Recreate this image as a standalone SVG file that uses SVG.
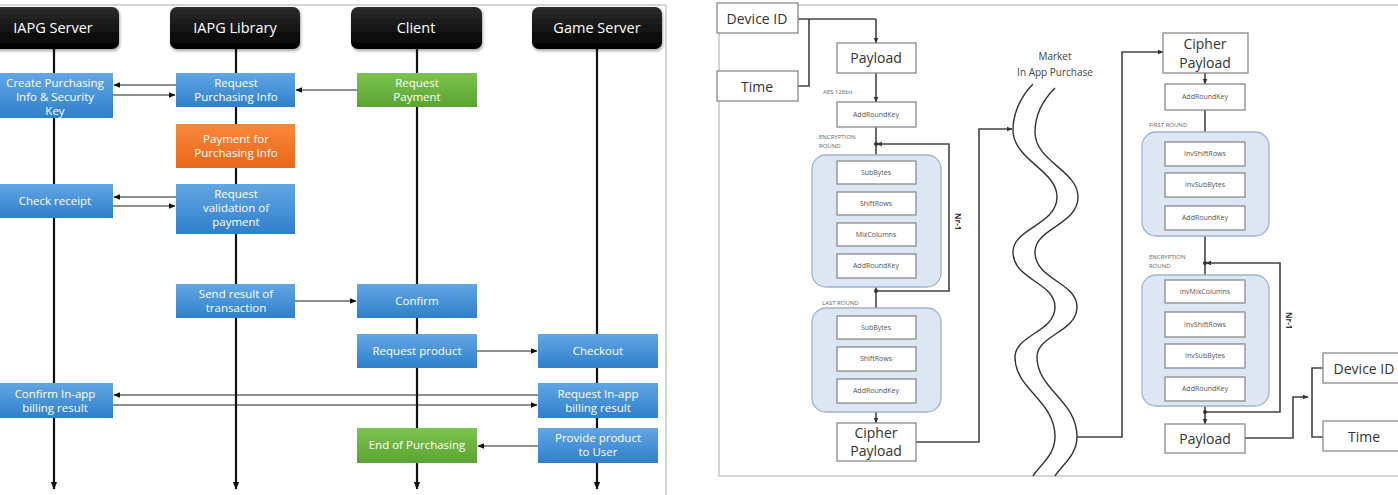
<svg xmlns="http://www.w3.org/2000/svg" width="1398" height="495" viewBox="0 0 1398 495">
<defs>
<linearGradient id="gBlue" x1="0" y1="0" x2="0" y2="1"><stop offset="0" stop-color="#62a6e4"/><stop offset="1" stop-color="#2f7fcb"/></linearGradient>
<linearGradient id="gOrange" x1="0" y1="0" x2="0" y2="1"><stop offset="0" stop-color="#f9893a"/><stop offset="1" stop-color="#e9661b"/></linearGradient>
<linearGradient id="gGreen" x1="0" y1="0" x2="0" y2="1"><stop offset="0" stop-color="#7cc44e"/><stop offset="1" stop-color="#5ba434"/></linearGradient>
<linearGradient id="gBlack" x1="0" y1="0" x2="0" y2="1"><stop offset="0" stop-color="#2c2c2c"/><stop offset="1" stop-color="#000"/></linearGradient>
<filter id="sh" x="-10%" y="-10%" width="130%" height="140%"><feDropShadow dx="1" dy="2" stdDeviation="1.5" flood-color="#000" flood-opacity="0.35"/></filter>
<marker id="ah" viewBox="0 0 10 10" refX="9" refY="5" markerWidth="6" markerHeight="6" orient="auto"><path d="M0,1 L10,5 L0,9 z" fill="#111"/></marker>
<marker id="al" viewBox="0 0 10 10" refX="9" refY="5" markerWidth="3.6" markerHeight="3.6" orient="auto"><path d="M0,1 L10,5 L0,9 z" fill="#111"/></marker>
<marker id="as" viewBox="0 0 10 10" refX="9" refY="5" markerWidth="3.6" markerHeight="3.6" orient="auto"><path d="M0,1 L10,5 L0,9 z" fill="#333"/></marker>
<style>
.hdr{fill:url(#gBlack);filter:url(#sh);}
.ht{font-family:"Open Sans","Noto Sans",sans-serif;font-size:14.5px;fill:#fff;text-anchor:middle;}
.bt{font-family:"Open Sans","Noto Sans",sans-serif;font-size:11.5px;fill:#fff;text-anchor:middle;}
.blue{fill:url(#gBlue);}
.orange{fill:url(#gOrange);}
.green{fill:url(#gGreen);}
.life{stroke:#111;stroke-width:2.2;fill:none;marker-end:url(#al);}
.msg{stroke:#222;stroke-width:1.2;fill:none;marker-end:url(#ah);}
.frame{stroke:#c8c8c8;stroke-width:1.5;fill:none;}
.wb{fill:#fff;stroke:#8a8a8a;stroke-width:1.3;}
.cont{fill:#dde7f3;stroke:#9fb4cb;stroke-width:1.3;}
.lt{font-family:"Open Sans","Noto Sans",sans-serif;font-size:14px;fill:#333;text-anchor:middle;}
.st{font-family:"Open Sans","Noto Sans",sans-serif;font-size:7px;fill:#555;text-anchor:middle;}
.sl{font-family:"Open Sans","Noto Sans",sans-serif;font-size:6px;fill:#666;}
.nr{font-family:"Open Sans","Noto Sans",sans-serif;font-size:8px;font-weight:bold;fill:#333;}
.mk{font-family:"Open Sans","Noto Sans",sans-serif;font-size:10px;fill:#444;text-anchor:middle;}
.cn{stroke:#444;stroke-width:1.6;fill:none;}
.ca{stroke:#444;stroke-width:1.6;fill:none;marker-end:url(#as);}
.wave{stroke:#333;stroke-width:1.4;fill:none;}
</style>
</defs>
<rect width="1398" height="495" fill="#fff"/>
<!-- frames -->
<line class="frame" x1="0" y1="5" x2="666" y2="5"/>
<line class="frame" x1="666" y1="5" x2="666" y2="495"/>
<path class="frame" d="M1398,5 H719 V476 H1398"/>

<!-- left panel: headers -->
<g id="hdr-iapg-server"><rect class="hdr" x="-10" y="7" width="129" height="42" rx="7"/><text class="ht" x="53" y="33">IAPG Server</text></g>
<g id="hdr-iapg-library"><rect class="hdr" x="170" y="7" width="130" height="42" rx="7"/><text class="ht" x="235" y="33">IAPG Library</text></g>
<g id="hdr-client"><rect class="hdr" x="351" y="7" width="131" height="42" rx="7"/><text class="ht" x="416" y="33">Client</text></g>
<g id="hdr-game-server"><rect class="hdr" x="532" y="7" width="130" height="42" rx="7"/><text class="ht" x="597" y="33">Game Server</text></g>

<!-- connectors -->
<g id="connectors">
<line class="life" x1="54" y1="49" x2="54" y2="489"/>
<line class="life" x1="236" y1="49" x2="236" y2="489"/>
<line class="life" x1="417" y1="49" x2="417" y2="489"/>
<line class="life" x1="597" y1="49" x2="597" y2="489"/>
<line class="msg" x1="176" y1="85" x2="114" y2="85"/>
<line class="msg" x1="113" y1="95" x2="175" y2="95"/>
<line class="msg" x1="357" y1="90" x2="296" y2="90"/>
<line class="msg" x1="176" y1="197" x2="114" y2="197"/>
<line class="msg" x1="113" y1="206" x2="175" y2="206"/>
<line class="msg" x1="295" y1="301" x2="356" y2="301"/>
<line class="msg" x1="477" y1="351" x2="537" y2="351"/>
<line class="msg" x1="538" y1="395" x2="114" y2="395"/>
<line class="msg" x1="113" y1="405" x2="537" y2="405"/>
<line class="msg" x1="538" y1="446" x2="478" y2="446"/>

<!-- right panel connectors -->
<path class="cn" d="M798,19 H876"/><path class="ca" d="M876,19 V43"/>
<path class="cn" d="M798,86 H809 V19"/>
<path class="ca" d="M876,73 V102"/>
<path class="ca" d="M876,127 V161"/>
<path class="ca" d="M876,291 H949 V144 H877"/>
<circle cx="876" cy="144" r="2" fill="#333"/>
<path class="ca" d="M876,184 V192"/>
<path class="ca" d="M876,215 V223"/>
<path class="ca" d="M876,246 V254"/>
<path class="ca" d="M876,278 V316"/>
<circle cx="876" cy="291" r="2" fill="#333"/>
<path class="ca" d="M876,339 V347"/>
<path class="ca" d="M876,371 V379"/>
<path class="ca" d="M876,403 V423"/>
<path class="ca" d="M916,442 H979 V129 H1012"/>
<path class="ca" d="M1077,437 H1122 V52 H1163"/>
<path class="ca" d="M1205,73 V84"/>
<path class="ca" d="M1205,110 V142"/>
<path class="ca" d="M1205,166 V173"/>
<path class="ca" d="M1205,197 V206"/>
<path class="ca" d="M1205,230 V280"/>
<path class="ca" d="M1205,412 H1280 V263 H1206"/>
<circle cx="1205" cy="263" r="2" fill="#333"/>
<path class="ca" d="M1205,303 V312"/>
<path class="ca" d="M1205,337 V344"/>
<path class="ca" d="M1205,368 V377"/>
<path class="ca" d="M1205,401 V424"/>
<circle cx="1205" cy="412" r="2" fill="#333"/>
<path class="ca" d="M1245,438 H1293 V397 H1308"/>
<path class="cn" d="M1323,368 H1312 V437 H1323"/>
</g>

<!-- left panel boxes -->
<g id="n-create"><rect class="blue" x="-5" y="73" width="118" height="45"/><text class="bt" x="55" y="87">Create Purchasing</text><text class="bt" x="55" y="101">Info &amp; Security</text><text class="bt" x="55" y="115">Key</text></g>
<g id="n-reqinfo"><rect class="blue" x="176" y="73" width="119" height="34"/><text class="bt" x="236" y="87">Request</text><text class="bt" x="236" y="101">Purchasing Info</text></g>
<g id="n-payment"><rect class="orange" x="176" y="124" width="119" height="44"/><text class="bt" x="236" y="143">Payment for</text><text class="bt" x="236" y="157">Purchasing Info</text></g>
<g id="n-check"><rect class="blue" x="-5" y="184" width="118" height="34"/><text class="bt" x="55" y="205">Check receipt</text></g>
<g id="n-validation"><rect class="blue" x="176" y="184" width="119" height="50"/><text class="bt" x="236" y="198">Request</text><text class="bt" x="236" y="212">validation of</text><text class="bt" x="236" y="226">payment</text></g>
<g id="n-reqpay"><rect class="green" x="357" y="73" width="120" height="34"/><text class="bt" x="417" y="87">Request</text><text class="bt" x="417" y="101">Payment</text></g>
<g id="n-sendresult"><rect class="blue" x="176" y="284" width="119" height="34"/><text class="bt" x="236" y="298">Send result of</text><text class="bt" x="236" y="312">transaction</text></g>
<g id="n-confirm"><rect class="blue" x="357" y="284" width="120" height="34"/><text class="bt" x="417" y="305">Confirm</text></g>
<g id="n-reqproduct"><rect class="blue" x="357" y="334" width="120" height="34"/><text class="bt" x="417" y="355">Request  product</text></g>
<g id="n-checkout"><rect class="blue" x="538" y="334" width="120" height="34"/><text class="bt" x="598" y="355">Checkout</text></g>
<g id="n-confirmbilling"><rect class="blue" x="-5" y="383" width="118" height="35"/><text class="bt" x="55" y="398">Confirm In-app</text><text class="bt" x="55" y="412">billing result</text></g>
<g id="n-reqbilling"><rect class="blue" x="538" y="383" width="120" height="35"/><text class="bt" x="598" y="398">Request In-app</text><text class="bt" x="598" y="412">billing result</text></g>
<g id="n-end"><rect class="green" x="357" y="428" width="120" height="35"/><text class="bt" x="417" y="449">End of Purchasing</text></g>
<g id="n-provide"><rect class="blue" x="538" y="428" width="120" height="35"/><text class="bt" x="598" y="442">Provide product</text><text class="bt" x="598" y="456">to User</text></g>

<!-- right panel: encryption side -->
<g id="r-deviceid1"><rect class="wb" x="717" y="3" width="81" height="30"/><text class="lt" x="757" y="24">Device ID</text></g>
<g id="r-time1"><rect class="wb" x="717" y="71" width="81" height="30"/><text class="lt" x="757" y="92">Time</text></g>
<g id="r-payload1"><rect class="wb" x="837" y="43" width="79" height="30"/><text class="lt" x="876" y="63">Payload</text></g>
<text class="sl" x="823" y="94">AES 128bit</text>
<g id="r-ark1"><rect class="wb" x="837" y="102" width="79" height="25"/><text class="st" x="876" y="117">AddRoundKey</text></g>
<text class="sl" x="819" y="139">ENCRYPTION</text><text class="sl" x="819" y="148">ROUND</text>
<g id="r-encround"><rect class="cont" x="812" y="155" width="129" height="132" rx="14"/>
<rect class="wb" x="837" y="161" width="79" height="23"/><text class="st" x="876" y="175">SubBytes</text>
<rect class="wb" x="837" y="192" width="79" height="23"/><text class="st" x="876" y="206">ShiftRows</text>
<rect class="wb" x="837" y="223" width="79" height="23"/><text class="st" x="876" y="237">MixColumns</text>
<rect class="wb" x="837" y="254" width="79" height="24"/><text class="st" x="876" y="268">AddRoundKey</text></g>
<text class="nr" transform="translate(955,213) rotate(90)">Nr-1</text>
<text class="sl" x="822" y="305">LAST ROUND</text>
<g id="r-lastround"><rect class="cont" x="812" y="308" width="129" height="104" rx="14"/>
<rect class="wb" x="837" y="316" width="79" height="23"/><text class="st" x="876" y="330">SubBytes</text>
<rect class="wb" x="837" y="347" width="79" height="24"/><text class="st" x="876" y="361">ShiftRows</text>
<rect class="wb" x="837" y="379" width="79" height="24"/><text class="st" x="876" y="393">AddRoundKey</text></g>
<g id="r-cipher1"><rect class="wb" x="837" y="423" width="79" height="38"/><text class="lt" x="876" y="438">Cipher</text><text class="lt" x="876" y="456">Payload</text></g>

<!-- market -->
<g id="r-market">
<text class="mk" x="1055" y="60">Market</text><text class="mk" x="1055" y="76">In App Purchase</text>
<path class="wave" d="M1033,84 C1022,95 1013,112 1013,130 C1013,160 1057,170 1057,197 C1057,225 1013,228 1013,252 C1013,280 1055,282 1055,307 C1055,332 1015,335 1015,357 C1015,390 1055,400 1055,437 C1055,455 1040,465 1033,476"/>
<path class="wave" d="M1055,88 C1044,99 1035,114 1035,132 C1035,162 1078,170 1078,197 C1078,225 1035,228 1035,252 C1035,280 1077,282 1077,307 C1077,332 1037,335 1037,357 C1037,390 1077,400 1077,437 C1077,455 1062,465 1055,476"/>
</g>

<!-- decryption side -->
<g id="r-cipher2"><rect class="wb" x="1163" y="33" width="85" height="40"/><text class="lt" x="1205" y="49">Cipher</text><text class="lt" x="1205" y="68">Payload</text></g>
<g id="r-ark2"><rect class="wb" x="1165" y="84" width="80" height="26"/><text class="st" x="1205" y="99">AddRoundKey</text></g>
<text class="sl" x="1149" y="127">FIRST ROUND</text>
<g id="r-firstround"><rect class="cont" x="1142" y="132" width="127" height="104" rx="14"/>
<rect class="wb" x="1165" y="142" width="80" height="24"/><text class="st" x="1205" y="156">InvShiftRows</text>
<rect class="wb" x="1165" y="173" width="80" height="24"/><text class="st" x="1205" y="187">InvSubBytes</text>
<rect class="wb" x="1165" y="206" width="80" height="24"/><text class="st" x="1205" y="220">AddRoundKey</text></g>
<text class="sl" x="1149" y="259">ENCRYPTION</text><text class="sl" x="1149" y="268">ROUND</text>
<g id="r-decround"><rect class="cont" x="1142" y="275" width="127" height="131" rx="14"/>
<rect class="wb" x="1165" y="280" width="80" height="23"/><text class="st" x="1205" y="294">InvMixColumns</text>
<rect class="wb" x="1165" y="312" width="80" height="25"/><text class="st" x="1205" y="327">InvShiftRows</text>
<rect class="wb" x="1165" y="344" width="80" height="24"/><text class="st" x="1205" y="358">InvSubBytes</text>
<rect class="wb" x="1165" y="377" width="80" height="24"/><text class="st" x="1205" y="391">AddRoundKey</text></g>
<text class="nr" transform="translate(1286,312) rotate(90)">Nr-1</text>
<g id="r-payload2"><rect class="wb" x="1165" y="424" width="80" height="29"/><text class="lt" x="1205" y="444">Payload</text></g>
<g id="r-deviceid2"><rect class="wb" x="1323" y="353" width="80" height="30"/><text class="lt" x="1364" y="374">Device ID</text></g>
<g id="r-time2"><rect class="wb" x="1323" y="421" width="80" height="30"/><text class="lt" x="1364" y="442">Time</text></g>
</svg>
